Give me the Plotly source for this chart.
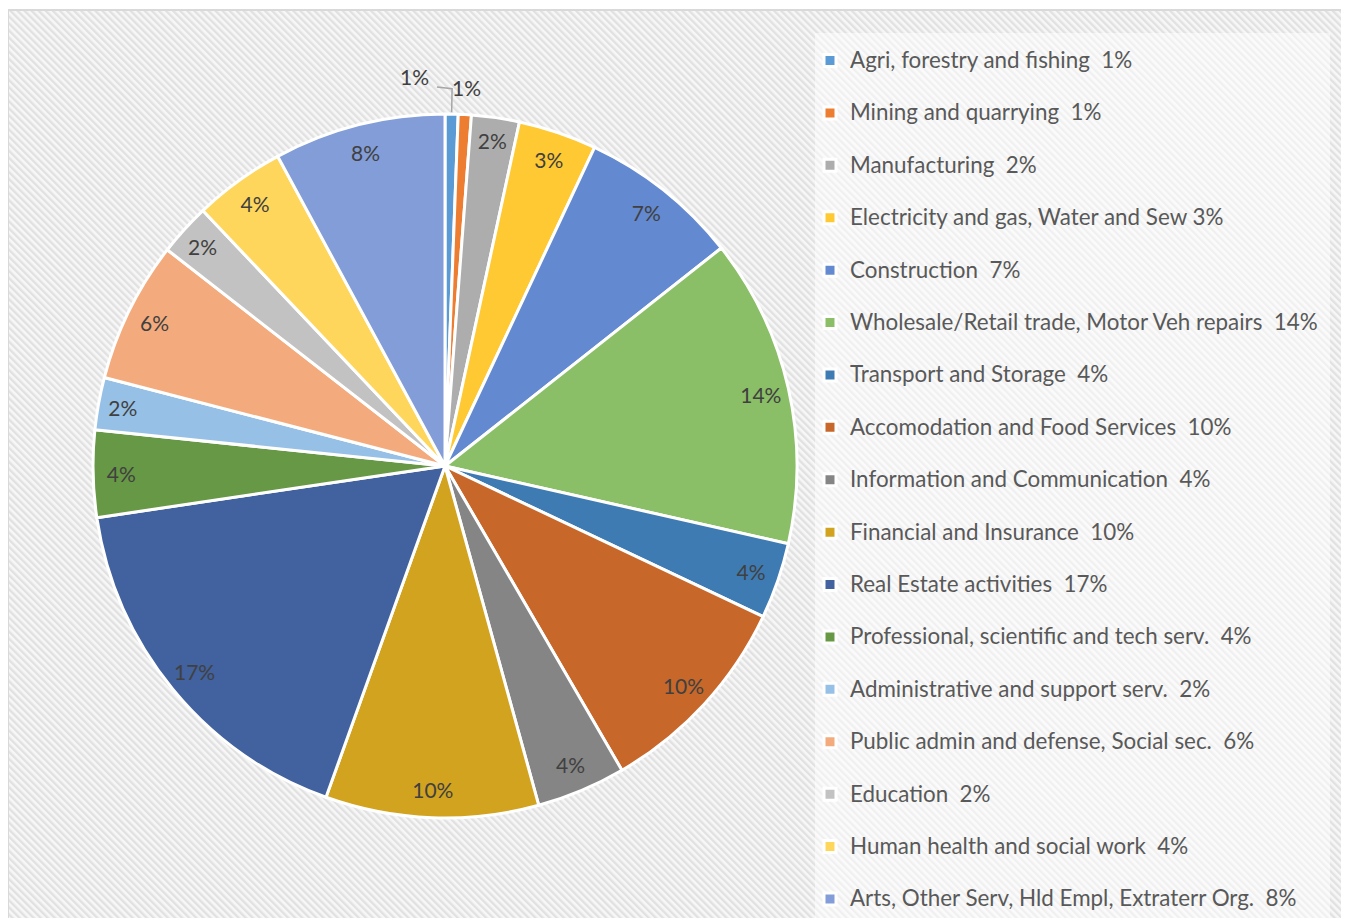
import base64
import math
import plotly.graph_objects as go

# ---------------- data ----------------
categories = [
    "Agri, forestry and fishing",
    "Mining and quarrying",
    "Manufacturing",
    "Electricity and gas, Water and Sew",
    "Construction",
    "Wholesale/Retail trade, Motor Veh repairs",
    "Transport and Storage",
    "Accomodation and Food Services",
    "Information and Communication",
    "Financial and Insurance",
    "Real Estate activities",
    "Professional, scientific and tech serv.",
    "Administrative and support serv.",
    "Public admin and defense, Social sec.",
    "Education",
    "Human health and social work",
    "Arts, Other Serv, Hld Empl, Extraterr Org.",
]
shares = [0.6, 0.6, 2.2, 3.6, 7.4, 14.2, 3.5, 9.6, 4.1, 9.8, 17.2, 4.0, 2.4, 6.5, 2.4, 4.2, 7.9]
pct_labels = ["1%", "1%", "2%", "3%", "7%", "14%", "4%", "10%", "4%", "10%",
              "17%", "4%", "2%", "6%", "2%", "4%", "8%"]
separators = ["\u00a0 "] * 3 + [" "] + ["\u00a0 "] * 13

# ---------------- style ----------------
colors = ["#5B9BD5", "#ED7D31", "#ADADAD", "#FFC933", "#6389D0", "#8ABE67",
          "#3E7BB3", "#C7672A", "#858585", "#D2A31F", "#41619F", "#679845",
          "#96C0E6", "#F3AB7D", "#C2C2C2", "#FFD65C", "#829DD7"]
OFF = 8                        # page margin of the browser body
W, H = 1349 - OFF, 918 - OFF
CXw, CYw, R = 445, 466, 352    # pie centre (window px) / radius
FONT = "Lato, Calibri, sans-serif"


def px(wx):
    return (wx - OFF) / W


def py(wy):
    return 1 - (wy - OFF) / H


# a blank first line gives each legend entry Excel's generous row spacing
legend_names = [
    " <br><span style='font-size:22.4px'>" + c + s + p + "</span>"
    for c, s, p in zip(categories, separators, pct_labels)
]

domain = dict(x=[px(CXw - R), px(CXw + R)], y=[py(CYw + R), py(CYw - R)])

fig = go.Figure()
fig.add_trace(go.Pie(
    labels=legend_names, values=shares, sort=False, direction="clockwise", rotation=0,
    marker=dict(colors=colors, line=dict(color="white", width=3)),
    textinfo="none", hoverinfo="percent", domain=domain, showlegend=True,
))

# transparent ring carrying the data labels (keeps labels near the rim)
inner_text = ["" if v < 1 else t for v, t in zip(shares, pct_labels)]
fig.add_trace(go.Pie(
    labels=legend_names, values=shares, sort=False, direction="clockwise", rotation=0,
    hole=0.84, marker=dict(colors=["rgba(0,0,0,0)"] * len(shares), line=dict(width=0)),
    text=inner_text, texttemplate="%{text}", textposition="inside",
    insidetextorientation="horizontal",
    textfont=dict(family=FONT, size=21, color="#404040"),
    hoverinfo="skip", domain=domain, showlegend=False,
))

# outside labels for the two tiny slices
total = sum(shares)
mids = []
acc = 0
for v in shares:
    mids.append((acc + v / 2) / total * 360)
    acc += v


def polar(r, ang):
    a = math.radians(ang)
    return px(CXw + r * R * math.sin(a)), py(CYw - r * R * math.cos(a))


ax0, ay0 = polar(1.11, mids[0] - 5.6)
ax1, ay1 = polar(1.077, mids[1])
annotations = [
    dict(x=ax0, y=ay0, xref="paper", yref="paper", text=pct_labels[0], showarrow=False,
         xanchor="center", yanchor="middle",
         font=dict(family=FONT, size=21, color="#404040")),
    dict(x=ax1, y=ay1, xref="paper", yref="paper", text=pct_labels[1], showarrow=False,
         xanchor="center", yanchor="middle",
         font=dict(family=FONT, size=21, color="#404040")),
]
p1 = polar(1.005, mids[0])
p2 = polar(1.072, mids[0])
p3 = polar(1.077, mids[0] - 2.3)
leader = dict(type="path", xref="paper", yref="paper",
              path=f"M{p3[0]},{p3[1]} L{p2[0]},{p2[1]} L{p1[0]},{p1[1]}",
              line=dict(color="#A6A6A6", width=1.5), layer="above")

# hatched chart-area background
svg = (
    "<svg xmlns='http://www.w3.org/2000/svg' width='1336' height='915'>"
    "<defs><pattern id='p' width='5' height='5' patternUnits='userSpaceOnUse' "
    "patternTransform='rotate(-45)'>"
    "<rect width='5' height='5' fill='#F7F7F7'/><rect width='2.4' height='5' fill='#E1E1E1'/>"
    "</pattern></defs><rect width='100%' height='100%' fill='url(#p)'/></svg>"
)
src = "data:image/svg+xml;base64," + base64.b64encode(svg.encode()).decode()

fig.update_layout(
    width=W, height=H,
    margin=dict(l=0, r=0, t=0, b=0),
    paper_bgcolor="white",
    images=[dict(source=src, xref="paper", yref="paper", x=px(8), y=py(10),
                 sizex=1336 / W, sizey=915 / H, xanchor="left", yanchor="top",
                 sizing="stretch", layer="below")],
    shapes=[
        dict(type="rect", xref="paper", yref="paper", x0=px(815), x1=px(1330),
             y0=-0.01, y1=py(33), fillcolor="rgba(255,255,255,0.5)",
             line=dict(width=0), layer="below"),
        dict(type="rect", xref="paper", yref="paper", x0=px(8), x1=px(1344),
             y0=-0.01, y1=py(10), fillcolor="rgba(0,0,0,0)",
             line=dict(color="#D9D9D9", width=2), layer="below"),
        leader,
    ],
    annotations=annotations,
    legend=dict(x=px(810), xanchor="left", y=py(17.2), yanchor="top",
                bgcolor="rgba(0,0,0,0)", valign="bottom", tracegroupgap=0,
                font=dict(family=FONT, size=19, color="#595959")),
    showlegend=True,
)

fig.write_html("out.html")
